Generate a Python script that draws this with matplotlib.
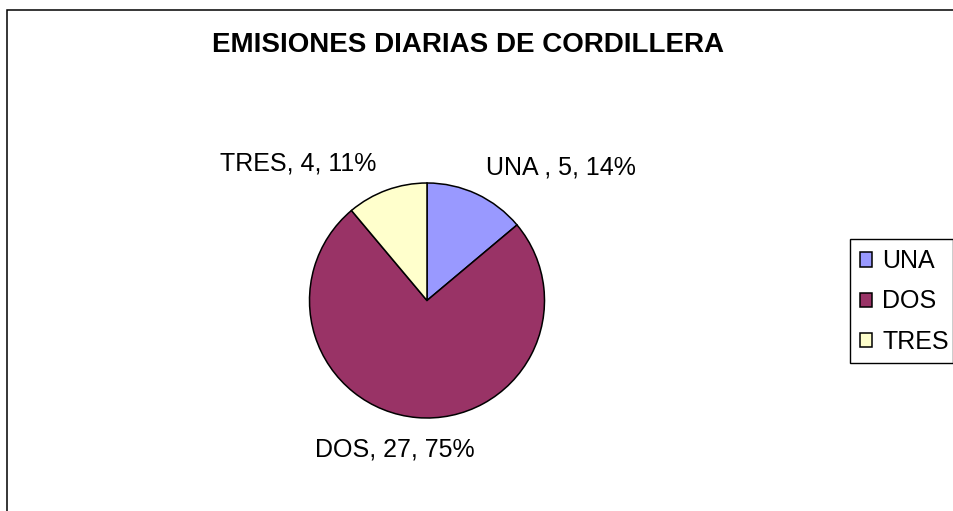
import matplotlib
matplotlib.use("Agg")
import matplotlib.pyplot as plt
from matplotlib.patches import Rectangle, Patch

plt.rcParams["font.family"] = ["Liberation Sans", "DejaVu Sans"]

categories = ["UNA ", "DOS", "TRES"]
legend_labels = ["UNA", "DOS", "TRES"]
values = [5, 27, 4]
colors = ["#9999FF", "#993366", "#FFFFCC"]
title = "EMISIONES DIARIAS DE CORDILLERA"

W, H = 954, 511
fig = plt.figure(figsize=(W / 100, H / 100), dpi=100)
fig.patch.set_facecolor("white")

# outer chart border (only left and top edges are visible)
fig.patches.append(Rectangle((7 / W, -0.1), 1.2, 1 - 10 / H + 0.1,
                             transform=fig.transFigure, fill=False,
                             edgecolor="black", linewidth=1.1))

# pie axes: center (427, 300.5) px, radius 117.5 px
cx, cy, r = 427, 300.5, 117.5
ax = fig.add_axes([(cx - r) / W, 1 - (cy + r) / H, 2 * r / W, 2 * r / H])
wedges, _ = ax.pie(values, colors=colors, startangle=90, counterclock=False,
                   radius=1.0,
                   wedgeprops=dict(edgecolor="black", linewidth=1.1))
ax.set_xlim(-1, 1)
ax.set_ylim(-1, 1)
ax.set_aspect("equal")
ax.axis("off")

total = sum(values)
label_pos = [(1.14, 1.136), (-0.272, -1.272), (-1.098, 1.17)]
for name, v, (lx, ly) in zip(categories, values, label_pos):
    pct = round(100 * v / total)
    ax.text(lx, ly, f"{name}, {v}, {pct}%", ha="center", va="center",
            fontsize=18, clip_on=False)

fig.text(468.5 / W, 1 - 45 / H, title, ha="center", va="center",
         fontsize=20, fontweight="bold")

# legend box (850..953, 239..363 px)
fig.patches.append(Rectangle((850 / W, 1 - 363 / H), 103 / W, 124 / H,
                             transform=fig.transFigure, fill=False,
                             edgecolor="black", linewidth=1.0))
handles = [Patch(facecolor=c, edgecolor="black", linewidth=1.1) for c in colors]
leg = fig.legend(handles, legend_labels, loc="center left",
                 bbox_to_anchor=(860 / W, 1 - 301.5 / H), fontsize=18,
                 frameon=False,
                 handlelength=0.5, handleheight=0.5, handletextpad=0.4,
                 labelspacing=0.65, borderpad=0, borderaxespad=0)

fig.savefig("out.png", dpi=100, facecolor="white")
